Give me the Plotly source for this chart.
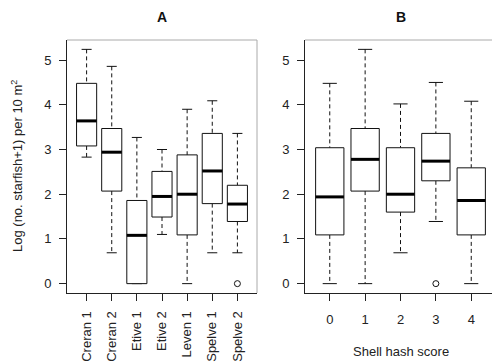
import plotly.graph_objects as go

# ---- Data ----
sites = ["Creran 1", "Creran 2", "Etive 1", "Etive 2", "Leven 1", "Spelve 1", "Spelve 2"]
site_low = [2.83, 0.69, 0.00, 1.10, 0.00, 0.69, 0.69]
site_q1 = [3.08, 2.07, 0.00, 1.49, 1.09, 1.79, 1.39]
site_med = [3.64, 2.94, 1.08, 1.95, 2.00, 2.52, 1.78]
site_q3 = [4.48, 3.47, 1.86, 2.51, 2.88, 3.36, 2.20]
site_high = [5.24, 4.86, 3.27, 3.00, 3.90, 4.09, 3.36]
site_out_cat = ["Spelve 2"]
site_out_val = [0.0]

scores = ["0", "1", "2", "3", "4"]
score_low = [0.00, 0.00, 0.69, 1.39, 0.00]
score_q1 = [1.09, 2.07, 1.60, 2.30, 1.09]
score_med = [1.94, 2.78, 2.00, 2.74, 1.86]
score_q3 = [3.04, 3.47, 3.04, 3.36, 2.59]
score_high = [4.48, 5.24, 4.02, 4.50, 4.08]
score_out_cat = ["3"]
score_out_val = [0.0]

y_ticks = [0, 1, 2, 3, 4, 5]

BOXW = 0.4   # half box width
CAPW = 0.2   # half cap width
FONT = "Liberation Sans, Arial, sans-serif"
INK = "#111111"

fig = go.Figure()


def add_panel(cats, low, q1, med, q3, high, out_cat, out_val, xa, ya):
    pos = list(range(1, len(cats) + 1))
    # whiskers (dashed)
    wx, wy = [], []
    for p, lo, a, b, hi in zip(pos, low, q1, q3, high):
        wx += [p, p, None, p, p, None]
        wy += [hi, b, None, a, lo, None]
    fig.add_trace(go.Scatter(x=wx, y=wy, mode="lines", xaxis=xa, yaxis=ya,
                             line=dict(color=INK, width=1, dash="4px,3px"),
                             hoverinfo="skip"))
    # caps
    cx, cy = [], []
    for p, lo, hi in zip(pos, low, high):
        cx += [p - CAPW, p + CAPW, None, p - CAPW, p + CAPW, None]
        cy += [hi, hi, None, lo, lo, None]
    fig.add_trace(go.Scatter(x=cx, y=cy, mode="lines", xaxis=xa, yaxis=ya,
                             line=dict(color=INK, width=1), hoverinfo="skip"))
    # boxes
    bx, by = [], []
    for p, a, b in zip(pos, q1, q3):
        bx += [p - BOXW, p + BOXW, p + BOXW, p - BOXW, p - BOXW, None]
        by += [a, a, b, b, a, None]
    fig.add_trace(go.Scatter(x=bx, y=by, mode="lines", fill="toself",
                             fillcolor="white", xaxis=xa, yaxis=ya,
                             line=dict(color=INK, width=1), hoverinfo="skip"))
    # medians
    mx, my = [], []
    for p, m in zip(pos, med):
        mx += [p - BOXW, p + BOXW, None]
        my += [m, m, None]
    fig.add_trace(go.Scatter(x=mx, y=my, mode="lines", xaxis=xa, yaxis=ya,
                             line=dict(color="black", width=3), hoverinfo="skip"))
    # outliers
    ox = [cats.index(c) + 1 for c in out_cat]
    fig.add_trace(go.Scatter(x=ox, y=out_val, mode="markers", xaxis=xa, yaxis=ya,
                             marker=dict(symbol="circle-open", size=6,
                                         color=INK, line=dict(width=1)),
                             hoverinfo="skip"))
    return pos


posA = add_panel(sites, site_low, site_q1, site_med, site_q3, site_high,
                 site_out_cat, site_out_val, "x", "y")
posB = add_panel(scores, score_low, score_q1, score_med, score_q3, score_high,
                 score_out_cat, score_out_val, "x2", "y2")

# page body has an 8px margin: size the figure to fit the 500x363 window
OFF = 8
W, H = 500 - OFF, 363 - OFF


def px(x):
    return (x - OFF) / W


def py(y):
    return 1 - (y - OFF) / H


ydom = [py(293), py(40)]
padA = (len(sites)) * 0.04
padB = (len(scores)) * 0.04
ymin, ymax = 0.0, max(site_high + score_high)
ypad = (ymax - ymin) * 0.04

axis_common = dict(showgrid=False, zeroline=False, showline=True, linecolor="#222",
                   linewidth=1, ticks="outside", ticklen=7, tickcolor="#222",
                   automargin=False,
                   tickfont=dict(family=FONT, size=13, color="#222"))

fig.update_layout(
    width=W, height=H, margin=dict(l=0, r=0, t=0, b=0),
    paper_bgcolor="white", plot_bgcolor="white", showlegend=False,
    hovermode=False,
    xaxis=dict(domain=[px(67), px(257)], range=[0.5 - padA, len(sites) + 0.5 + padA],
               tickvals=posA, ticktext=sites, tickangle=-90, anchor="y",
               ticklabelstandoff=5, **axis_common),
    yaxis=dict(domain=ydom, range=[ymin - ypad, ymax + ypad], tickvals=y_ticks,
               anchor="x", ticklabelstandoff=5, **axis_common),
    xaxis2=dict(domain=[px(305), px(496)], range=[0.5 - padB, len(scores) + 0.5 + padB],
                tickvals=posB, ticktext=scores, anchor="y2",
                ticklabelstandoff=7, **axis_common),
    yaxis2=dict(domain=ydom, range=[ymin - ypad, ymax + ypad], tickvals=y_ticks,
                anchor="x2", ticklabelstandoff=5, **axis_common),
)

# frame top/right edges
for xr, yr, col in [("x domain", "y domain", "#aaaaaa"), ("x2 domain", "y2 domain", "#777777")]:
    fig.add_shape(type="line", xref=xr, yref=yr, x0=0, x1=1, y0=1, y1=1,
                  line=dict(color="#aaaaaa", width=1))
    fig.add_shape(type="line", xref=xr, yref=yr, x0=1, x1=1, y0=0, y1=1,
                  line=dict(color=col, width=1))

ann = dict(xref="paper", yref="paper", showarrow=False, xanchor="center", yanchor="middle")
title_ann = dict(xref="paper", yref="paper", showarrow=False, xanchor="center",
                 yanchor="top", borderpad=0)
fig.add_annotation(text="<b>A</b>", x=px(162), y=1.0,
                   font=dict(family=FONT, size=14, color="#111"), **title_ann)
fig.add_annotation(text="<b>B</b>", x=px(401), y=1.0,
                   font=dict(family=FONT, size=14, color="#111"), **title_ann)
fig.add_annotation(text="Log (no. starfish+1) per 10 m<sup>2</sup>", textangle=-90,
                   x=px(17), y=py(166),
                   font=dict(family=FONT, size=13, color="#222"), **ann)
fig.add_annotation(text="Shell hash score", x=px(401), y=py(351),
                   font=dict(family=FONT, size=13, color="#222"), **ann)

fig.write_html("out.html")
